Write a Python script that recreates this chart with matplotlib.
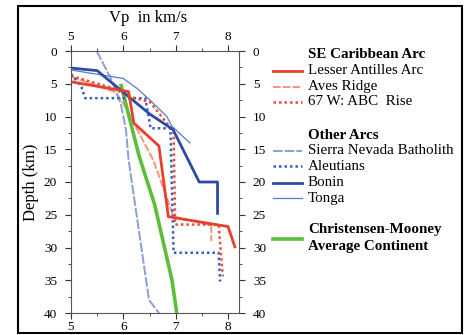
import matplotlib
matplotlib.use("Agg")
import matplotlib.pyplot as plt
from matplotlib.lines import Line2D
from matplotlib.patches import Rectangle

plt.rcParams['font.family'] = ['Liberation Serif', 'DejaVu Serif']

# --- data (Vp in km/s, depth in km) ---
lesser_v = [5.0, 5.8, 6.1, 6.2, 6.68, 6.86, 8.0, 8.14]
lesser_d = [4.7, 5.8, 6.2, 11.0, 14.5, 25.3, 26.8, 30.1]

aves_v = [5.0, 5.85, 6.0, 6.57, 6.96, 7.68, 7.68]
aves_d = [3.9, 6.3, 8.0, 16.6, 25.3, 26.6, 29.0]

abc_v = [5.0, 5.81, 6.13, 6.51, 6.96, 6.99, 7.82, 7.9]
abc_d = [3.8, 5.7, 7.0, 7.8, 12.3, 26.5, 26.5, 34.4]

snb_v = [5.49, 5.75, 5.95, 6.05, 6.1, 6.49, 6.68]
snb_d = [0.0, 4.0, 8.0, 12.0, 16.6, 38.0, 40.0]

aleut_v = [5.0, 5.2, 5.27, 6.42, 6.5, 6.52, 6.9, 6.96, 7.82, 7.85]
aleut_d = [3.5, 5.5, 7.2, 7.2, 10.8, 11.8, 11.8, 30.8, 30.8, 35.2]

bonin_v = [5.0, 5.5, 6.5, 6.95, 7.45, 7.8, 7.8]
bonin_d = [2.6, 3.0, 9.6, 12.0, 20.0, 20.0, 25.0]

tonga_v = [5.0, 6.0, 6.26, 6.51, 6.83, 6.93, 7.28]
tonga_d = [2.9, 4.2, 5.7, 7.5, 10.0, 11.5, 14.1]

cm_v = [5.95, 6.3, 6.6, 6.93, 7.02]
cm_d = [5.0, 16.0, 23.5, 35.0, 40.0]

x_ticks = [5, 6, 7, 8]
y_ticks = [0, 5, 10, 15, 20, 25, 30, 35, 40]

RED = '#e8402e'
SALMON = '#f2967e'
DOTRED = '#ea4a35'
LIGHTBLUE = '#8a9ed8'
DOTBLUE = '#3a5cc0'
DARKBLUE = '#2d4aa6'
TONGA = '#5a7ad0'
GREEN = '#5cbf3c'

styles = [
    ("Lesser Antilles Arc", lesser_v, lesser_d, dict(color=RED, lw=2.0, ls='-')),
    ("Aves Ridge", aves_v, aves_d, dict(color=SALMON, lw=1.4, ls=(0, (4, 1)))),
    ("67 W: ABC  Rise", abc_v, abc_d, dict(color=DOTRED, lw=1.8, ls=(0, (1, 1.2)))),
    ("Sierra Nevada Batholith", snb_v, snb_d, dict(color=LIGHTBLUE, lw=1.4, ls=(0, (5, 1)))),
    ("Aleutians", aleut_v, aleut_d, dict(color=DOTBLUE, lw=1.8, ls=(0, (1, 1.2)))),
    ("Bonin", bonin_v, bonin_d, dict(color=DARKBLUE, lw=2.0, ls='-')),
    ("Tonga", tonga_v, tonga_d, dict(color=TONGA, lw=0.9, ls='-')),
    ("CM", cm_v, cm_d, dict(color=GREEN, lw=2.6, ls='-')),
]

W, H = 475, 335
fig = plt.figure(figsize=(W / 100, H / 100), dpi=100)
fig.patch.set_facecolor('white')

# outer frame
fig.add_artist(Rectangle((18 / W, 1 - 333 / H), (462 - 18) / W, (333 - 6) / H,
                         transform=fig.transFigure, fill=False, lw=1.5, ec='black'))

ax = fig.add_axes([71 / W, 1 - 313 / H, (239 - 71) / W, (313 - 51) / H])
order = [1, 7, 3, 6, 4, 2, 5, 0]
for i in order:
    name, v, d, st = styles[i]
    ax.plot(v, d, **st, solid_capstyle='butt', dash_capstyle='butt')

ax.set_xlim(5, 8.21)
ax.set_ylim(40, 0)
ax.set_xticks(x_ticks)
ax.set_yticks(y_ticks)
ax.set_xticks([5.5, 6.5, 7.5], minor=True)
ax.set_yticks([2.5 + 5 * k for k in range(8)], minor=True)
ax.tick_params(axis='both', which='both', direction='out', top=True, right=True,
               labeltop=True, labelright=True, labelsize=9.5, colors='#333333',
               labelcolor='black')
ax.tick_params(axis='both', which='major', length=4, width=0.8)
ax.tick_params(axis='both', which='minor', length=2, width=0.6)
ax.tick_params(axis='y', which='major', pad=6)
ax.tick_params(axis='x', which='major', pad=2)
for s in ax.spines.values():
    s.set_color('#555555')
    s.set_linewidth(0.8)

fig.text(148 / W, 1 - 18 / H, "Vp  in km/s", ha='center', va='center', fontsize=12)
fig.text(31 / W, 1 - 182 / H, "Depth (km)", ha='center', va='center', fontsize=12,
         rotation=90)

# legend (manual)
lx0, lx1, tx = 273, 302, 308
fs = 10.8

def legline(y, st):
    fig.add_artist(Line2D([lx0 / W, lx1 / W], [1 - y / H, 1 - y / H],
                          transform=fig.transFigure, **st))

def legtext(y, s, bold=False):
    fig.text(tx / W, 1 - y / H, s, ha='left', va='center', fontsize=fs,
             fontweight='bold' if bold else 'normal')

legtext(55, "SE Caribbean Arc", True)
rows = [(70.7, 0), (86.7, 1), (101.7, 2)]
for y, i in rows:
    st = dict(styles[i][3])
    legline(y, st)
    legtext(y, styles[i][0])
legtext(135, "Other Arcs", True)
rows = [(150.7, 3), (166, 4), (182.7, 5), (198.3, 6)]
for y, i in rows:
    st = dict(styles[i][3])
    legline(y, st)
    legtext(y, styles[i][0])
legline(239, dict(styles[7][3]))
legtext(230, "Christensen-Mooney", True)
legtext(246.7, "Average Continent", True)

fig.savefig("out.png", dpi=100)
